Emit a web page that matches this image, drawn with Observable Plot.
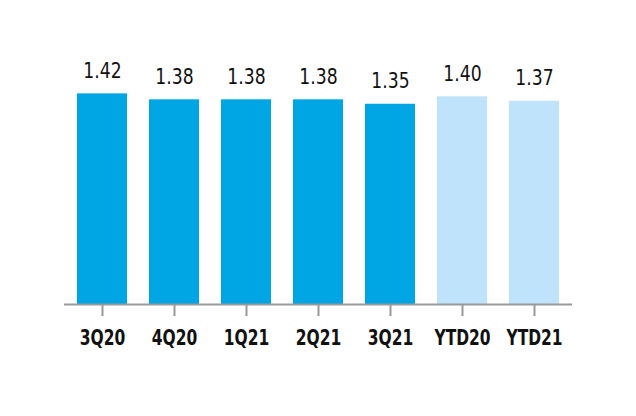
<!DOCTYPE html>
<html>
<head>
<meta charset="utf-8">
<script src="https://cdn.jsdelivr.net/npm/d3@7"></script>
<script src="https://cdn.jsdelivr.net/npm/@observablehq/plot@0.6"></script>
<style>
  html, body { margin: 0; padding: 0; background: #fff; }
  #chart svg { display: block; }
</style>
</head>
<body>
<div id="chart"></div>
<script>
const periods = ["3Q20", "4Q20", "1Q21", "2Q21", "3Q21", "YTD20", "YTD21"];
const values = [1.42, 1.38, 1.38, 1.38, 1.35, 1.40, 1.37];
const kinds = ["quarter", "quarter", "quarter", "quarter", "quarter", "ytd", "ytd"];

const data = periods.map((p, i) => ({period: p, value: values[i], kind: kinds[i]}));
const font = "'Liberation Sans Narrow', 'Arial Narrow', 'DejaVu Sans Condensed', sans-serif";

const chart = Plot.plot({
  width: 636,
  height: 416,
  marginLeft: 64,
  marginRight: 64,
  marginTop: 37,
  marginBottom: 112,
  style: {fontFamily: font, background: "#fff"},
  x: {domain: periods, paddingInner: 0.3, paddingOuter: 0.15, label: null},
  y: {domain: [0, 1.8], axis: null},
  color: {domain: ["quarter", "ytd"], range: ["#00a5e3", "#bfe3fa"]},
  marks: [
    Plot.barY(data, {x: "period", y: "value", fill: "kind"}),
    Plot.ruleY([0], {stroke: "#999", strokeWidth: 2}),
    Plot.axisX({tickSize: 12, stroke: "#999", strokeWidth: 2, tickFormat: () => "", label: null}),
    Plot.text(periods, {x: d => d, frameAnchor: "bottom", lineAnchor: "top", dy: 26, fontSize: 21, fontWeight: "bold", fill: "#111"}),
    Plot.text(data, {x: "period", y: "value", text: d => d.value.toFixed(2), dy: -16, lineAnchor: "bottom", fontSize: 21, fill: "#111"})
  ]
});

// narrow the glyphs horizontally to imitate the condensed typeface
function squeeze(group, s) {
  if (!group) return;
  group.querySelectorAll("text").forEach(el => {
    const t = el.getAttribute("transform") || "";
    const x = el.getAttribute("x");
    if (x != null) {
      el.setAttribute("transform", `${t} translate(${x},0) scale(${s},1)`);
      el.removeAttribute("x");
    } else {
      el.setAttribute("transform", `${t} scale(${s},1)`);
    }
  });
}
const textGroups = chart.querySelectorAll("g[aria-label='text']");
squeeze(textGroups[0], 0.82);
squeeze(textGroups[1], 0.91);

document.getElementById("chart").appendChild(chart);
</script>
</body>
</html>
